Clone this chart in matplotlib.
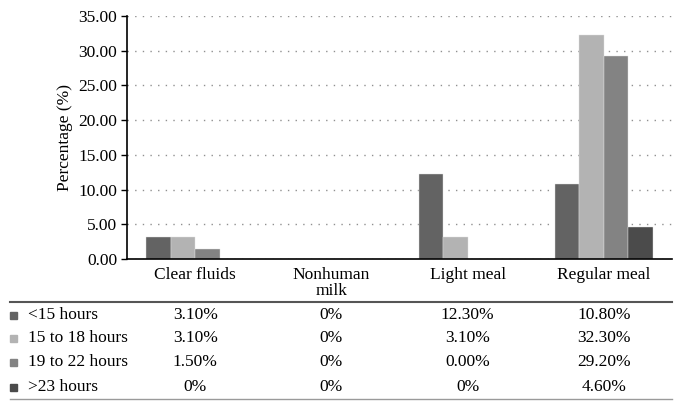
import numpy as np
import matplotlib.pyplot as plt
from matplotlib.transforms import blended_transform_factory
from matplotlib.lines import Line2D
from matplotlib.patches import Rectangle

# Data
categories = ['Clear fluids', 'Nonhuman\nmilk', 'Light meal', 'Regular meal']
series_names = ['<15 hours', '15 to 18 hours', '19 to 22 hours', '>23 hours']
under_15 = [3.10, 0, 12.30, 10.80]
h15_18 = [3.10, 0, 3.10, 32.30]
h19_22 = [1.50, 0, 0.00, 29.20]
over_23 = [0, 0, 0, 4.60]
table_text = [
    ['3.10%', '0%', '12.30%', '10.80%'],
    ['3.10%', '0%', '3.10%', '32.30%'],
    ['1.50%', '0%', '0.00%', '29.20%'],
    ['0%', '0%', '0%', '4.60%'],
]
colors = ['#636363', '#b3b3b3', '#838383', '#4b4b4b']

plt.rcParams['font.family'] = ['Liberation Serif', 'DejaVu Serif']
fs = 12.5

fig = plt.figure(figsize=(6.82, 4.09), dpi=100)
ax = fig.add_axes([127 / 682, 150 / 409, 545 / 682, 243 / 409])

series = [under_15, h15_18, h19_22, over_23]
x = np.arange(len(categories))
w = 0.18
for i, vals in enumerate(series):
    ax.bar(x + (i - 1.5) * w, vals, w, color=colors[i], edgecolor='#e0e0e0',
           linewidth=0.3, zorder=3)

ax.set_xlim(-0.5, 3.5)
ax.set_ylim(0, 35)
ax.set_yticks(np.arange(0, 36, 5))
ax.set_yticklabels(['%.2f' % v for v in np.arange(0, 36, 5)], fontsize=fs)
ax.set_xticks(x)
ax.set_xticklabels(categories, fontsize=fs, linespacing=0.95, va='top')
ax.tick_params(axis='x', length=0, pad=6)
ax.tick_params(axis='y', length=4, width=1, direction='out', pad=3)
ax.set_ylabel('Percentage (%)', fontsize=fs, labelpad=4)

ax.yaxis.grid(True, linestyle=(0, (1, 4.5)), color='#909090', linewidth=1, zorder=0)
ax.spines['top'].set_visible(False)
ax.spines['right'].set_visible(False)
ax.spines['left'].set_linewidth(1.2)
ax.spines['bottom'].set_linewidth(1.2)
ax.spines['bottom'].set_zorder(4)

# Data table below the chart
tr = blended_transform_factory(ax.transData, fig.transFigure)
row_y = [315, 338, 362, 387]
for r, name in enumerate(series_names):
    yf = (409 - row_y[r]) / 409
    fig.patches.append(Rectangle((10 / 682, yf - 3.5 / 409), 6.5 / 682, 6.5 / 409,
                                 transform=fig.transFigure, color=colors[r]))
    fig.text(28 / 682, yf, name, fontsize=fs, va='center', ha='left')
    for c in range(len(categories)):
        ax.text(x[c], yf, table_text[r][c], transform=tr, fontsize=fs,
                va='center', ha='center')

fig.add_artist(Line2D([10 / 682, 672 / 682], [(409 - 302) / 409] * 2,
                      color='#555555', linewidth=1.5))
fig.add_artist(Line2D([10 / 682, 672 / 682], [(409 - 399) / 409] * 2,
                      color='#9a9a9a', linewidth=1.0))

fig.savefig('out.png', dpi=100)
